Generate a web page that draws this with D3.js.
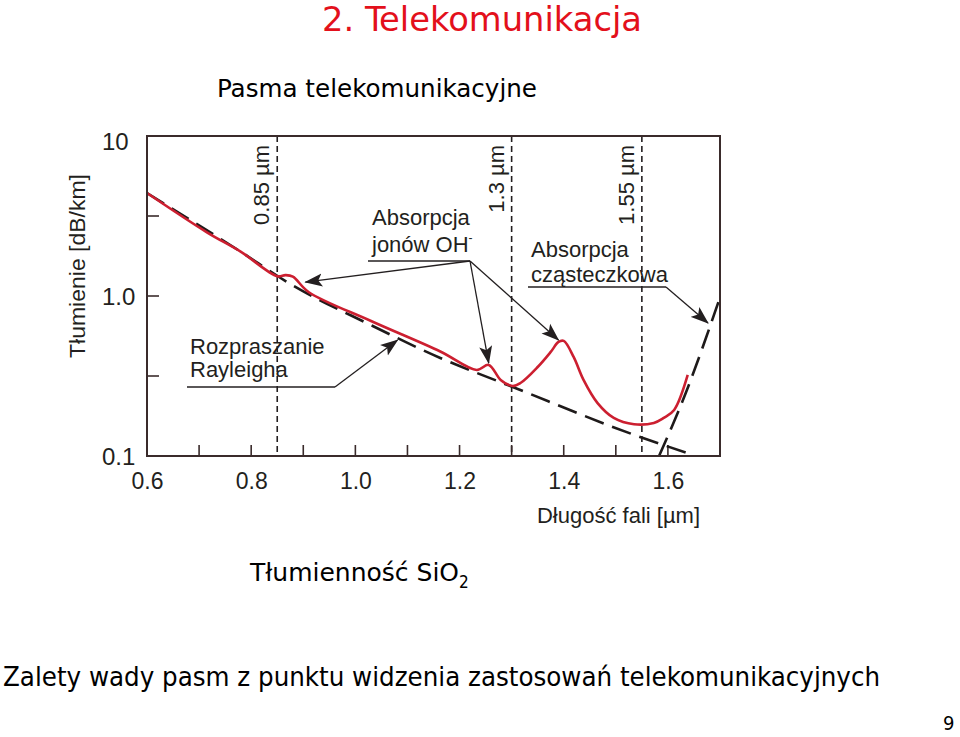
<!DOCTYPE html>
<html>
<head>
<meta charset="utf-8">
<script src="https://cdn.jsdelivr.net/npm/d3@7"></script>
<style>
  html, body { margin: 0; padding: 0; background: #ffffff; }
  svg { display: block; }
</style>
</head>
<body>
<svg id="chart" width="960" height="737"></svg>
<script>
// ---------------- DATA ----------------
// Measured attenuation of SiO2 fibre (red curve)
const redLambda = [0.600, 0.715, 0.779, 0.850, 0.866, 0.880, 0.910, 1.029, 1.163, 1.233, 1.256, 1.279, 1.302, 1.317, 1.350, 1.375, 1.390, 1.400, 1.419, 1.438, 1.465, 1.496, 1.535, 1.573, 1.592, 1.612, 1.638];
const redAtt    = [4.40, 2.50, 1.90, 1.33, 1.35, 1.32, 1.06, 0.70, 0.45, 0.345, 0.371, 0.299, 0.274, 0.286, 0.360, 0.447, 0.516, 0.524, 0.416, 0.299, 0.214, 0.173, 0.158, 0.161, 0.173, 0.194, 0.321];
// Rayleigh scattering limit (dashed)
const rayLambda = [0.600, 0.779, 0.875, 1.029, 1.163, 1.302, 1.548, 1.635];
const rayAtt    = [4.40, 1.90, 1.19, 0.66, 0.41, 0.27, 0.131, 0.105];
// Infrared (molecular) absorption (dashed)
const irLambda  = [1.583, 1.635, 1.673, 1.700];
const irAtt     = [0.100, 0.251, 0.546, 0.98];
// Telecom windows
const bandLambda = [0.85, 1.3, 1.55];
const bandLabels = ["0.85 \u00b5m", "1.3 \u00b5m", "1.55 \u00b5m"];
// Axes
const xTickValues = [0.6, 0.8, 1.0, 1.2, 1.4, 1.6];
const xTickLabels = ["0.6", "0.8", "1.0", "1.2", "1.4", "1.6"];
const xMinorTicks = [0.7, 0.8, 0.9, 1.0, 1.1, 1.2, 1.3, 1.4, 1.5, 1.6];
const yTickValues = [10, 1, 0.1];
const yTickLabels = ["10", "1.0", "0.1"];
const yMinorTicks = [Math.pow(10, 0.5), 1, Math.pow(10, -0.5)];
// Annotation arrow targets (wavelength, attenuation)
const ohTargets = [[0.904, 1.22], [1.256, 0.381], [1.390, 0.531]];
const rayTarget = [1.081, 0.531];
const irTarget  = [1.677, 0.678];

// ---------------- LAYOUT ----------------
const svg = d3.select("#chart");
const L = 147, R = 720, T = 136, B = 456;
const x = d3.scaleLinear().domain([0.6, 1.7]).range([L, R]);
const y = d3.scaleLog().domain([0.1, 10]).range([B, T]);

const ink = "#231f20";
const frame = "#3a2b2b";
const red = "#cc1f30";
const chartFont = "'Liberation Sans', Arial, Helvetica, sans-serif";
const slideFont = "'DejaVu Sans Condensed', 'DejaVu Sans', Tahoma, sans-serif";

svg.append("rect").attr("width", 960).attr("height", 737).attr("fill", "#fff");

const defs = svg.append("defs");
defs.append("clipPath").attr("id", "plotClip")
  .append("rect").attr("x", L).attr("y", T).attr("width", R - L).attr("height", B - T);

defs.append("marker")
  .attr("id", "arrow").attr("markerUnits", "userSpaceOnUse")
  .attr("viewBox", "0 -7 18 14").attr("refX", 17).attr("refY", 0)
  .attr("markerWidth", 18).attr("markerHeight", 14).attr("orient", "auto")
  .append("path").attr("d", "M0,-6.5 L18,0 L0,6.5 L4,0 Z").attr("fill", ink);

// ---------------- SLIDE TEXT ----------------
svg.append("text").text("2. Telekomunikacja")
  .attr("x", 322).attr("y", 31).attr("font-family", slideFont).attr("font-size", 34)
  .attr("fill", "#e3101b").attr("textLength", 320).attr("lengthAdjust", "spacingAndGlyphs");

svg.append("text").text("Pasma telekomunikacyjne")
  .attr("x", 217).attr("y", 97).attr("font-family", slideFont).attr("font-size", 25)
  .attr("fill", "#000").attr("textLength", 320).attr("lengthAdjust", "spacingAndGlyphs");

const tl = svg.append("text").attr("x", 250).attr("y", 581)
  .attr("font-family", slideFont).attr("font-size", 25).attr("fill", "#000");
tl.append("tspan").text("T\u0142umienno\u015b\u0107 SiO").attr("textLength", 209).attr("lengthAdjust", "spacingAndGlyphs");
tl.append("tspan").text("2").attr("font-size", 17).attr("dy", 7);

svg.append("text").text("Zalety wady pasm z punktu widzenia zastosowa\u0144 telekomunikacyjnych")
  .attr("x", 3).attr("y", 686).attr("font-family", slideFont).attr("font-size", 27)
  .attr("fill", "#000").attr("textLength", 877).attr("lengthAdjust", "spacingAndGlyphs");

svg.append("text").text("9")
  .attr("x", 943).attr("y", 730).attr("font-family", slideFont).attr("font-size", 20).attr("fill", "#000");

// ---------------- CHART ----------------
const g = svg.append("g");

// band dashed verticals
g.selectAll("line.band").data(bandLambda).join("line")
  .attr("x1", d => x(d)).attr("x2", d => x(d)).attr("y1", T).attr("y2", B)
  .attr("stroke", ink).attr("stroke-width", 1.6).attr("stroke-dasharray", "6,4");

g.selectAll("text.band").data(bandLambda).join("text")
  .attr("transform", d => `translate(${x(d) - 8},${T + 9}) rotate(-90)`)
  .attr("text-anchor", "end").attr("font-family", chartFont).attr("font-size", 22)
  .attr("fill", ink).text((d, i) => bandLabels[i]);

// minor ticks
g.selectAll("line.xt").data(xMinorTicks).join("line")
  .attr("x1", d => x(d)).attr("x2", d => x(d)).attr("y1", B).attr("y2", B - 11)
  .attr("stroke", frame).attr("stroke-width", 1.6);
g.selectAll("line.yt").data(yMinorTicks).join("line")
  .attr("x1", L).attr("x2", L + 12).attr("y1", d => y(d)).attr("y2", d => y(d))
  .attr("stroke", frame).attr("stroke-width", 1.6);

// axis labels via d3 axes (lines hidden)
const xAxis = d3.axisBottom(x).tickValues(xTickValues).tickSize(0).tickPadding(0)
  .tickFormat((d, i) => xTickLabels[i]);
const gx = g.append("g").attr("transform", `translate(0,${B})`).call(xAxis);
gx.select(".domain").remove();
gx.selectAll("text").attr("font-family", chartFont).attr("font-size", 23).attr("fill", ink).attr("dy", 0).attr("y", 33);

const yAxis = d3.axisLeft(y).tickValues(yTickValues).tickSize(0)
  .tickFormat((d, i) => yTickLabels[i]);
const gy = g.append("g").call(yAxis);
gy.select(".domain").remove();
gy.selectAll(".tick").attr("transform", d => `translate(0,${Math.max(y(d), T + 5)})`);
gy.selectAll("text").attr("font-family", chartFont).attr("font-size", 24).attr("fill", ink)
  .attr("text-anchor", "start").attr("x", 102).attr("dy", "0.36em");

// axis titles
g.append("text").text("T\u0142umienie [dB/km]")
  .attr("transform", `translate(85,266) rotate(-90)`).attr("text-anchor", "middle")
  .attr("font-family", chartFont).attr("font-size", 22).attr("fill", ink)
  .attr("textLength", 184).attr("lengthAdjust", "spacingAndGlyphs");
g.append("text").text("D\u0142ugo\u015b\u0107 fali [\u00b5m]")
  .attr("x", 700).attr("y", 523).attr("text-anchor", "end")
  .attr("font-family", chartFont).attr("font-size", 22).attr("fill", ink);

// curves
const line = d3.line().x(d => x(d[0])).y(d => y(d[1]));
const plot = g.append("g").attr("clip-path", "url(#plotClip)");

plot.append("path").datum(d3.zip(rayLambda, rayAtt))
  .attr("d", line.curve(d3.curveMonotoneX)).attr("fill", "none")
  .attr("stroke", "#1e1a1a").attr("stroke-width", 2.6).attr("stroke-dasharray", "20,9");

plot.append("path").datum(d3.zip(irLambda, irAtt))
  .attr("d", line.curve(d3.curveMonotoneX)).attr("fill", "none")
  .attr("stroke", "#1e1a1a").attr("stroke-width", 2.6).attr("stroke-dasharray", "20,9");

plot.append("path").datum(d3.zip(redLambda, redAtt))
  .attr("d", line.curve(d3.curveCatmullRom.alpha(0.5))).attr("fill", "none")
  .attr("stroke", red).attr("stroke-width", 2.6).attr("stroke-linejoin", "round");

// frame
g.append("rect").attr("x", L).attr("y", T).attr("width", R - L).attr("height", B - T)
  .attr("fill", "none").attr("stroke", frame).attr("stroke-width", 2);

// ---------------- ANNOTATIONS ----------------
function label(lines, x0, y0, lh) {
  const t = g.append("text").attr("font-family", chartFont).attr("font-size", 22).attr("fill", ink);
  lines.forEach((s, i) => t.append("tspan").attr("x", x0).attr("y", y0 + i * lh).text(s));
  return t;
}
function seg(x1, y1, x2, y2, arrow) {
  const l = g.append("line").attr("x1", x1).attr("y1", y1).attr("x2", x2).attr("y2", y2)
    .attr("stroke", ink).attr("stroke-width", 1.3);
  if (arrow) l.attr("marker-end", "url(#arrow)");
}

// OH absorption
const oh = label(["Absorpcja", "jon\u00f3w OH"], 372, 225, 27);
oh.append("tspan").text("-").attr("font-size", 12).attr("dy", -10);
seg(368, 261, 470, 261, false);
ohTargets.forEach(p => seg(470, 261, x(p[0]), y(p[1]), true));

// molecular absorption
label(["Absorpcja", "cz\u0105steczkowa"], 531, 257, 25);
seg(528, 287, 666, 287, false);
seg(666, 287, x(irTarget[0]), y(irTarget[1]), true);

// Rayleigh
label(["Rozpraszanie", "Rayleigha"], 190, 354, 23);
seg(187, 387, 335, 387, false);
seg(335, 387, x(rayTarget[0]), y(rayTarget[1]), true);
</script>
</body>
</html>
